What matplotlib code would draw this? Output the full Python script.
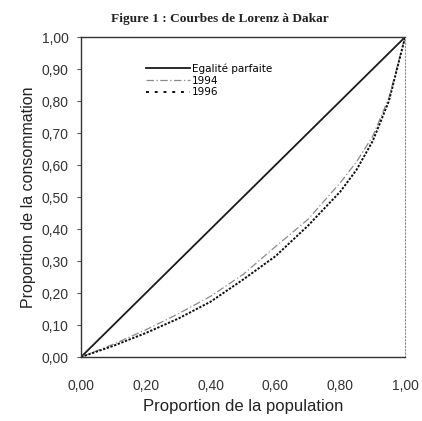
import matplotlib
matplotlib.use("Agg")
import matplotlib.pyplot as plt

# Data
pop = [0.0, 0.1, 0.2, 0.3, 0.4, 0.5, 0.6, 0.7, 0.8, 0.85, 0.9, 0.95, 0.98, 1.0]
egalite_x = [0.0, 1.0]
egalite = [0.0, 1.0]
cons_1994 = [0.0, 0.04, 0.085, 0.135, 0.19, 0.258, 0.345, 0.43, 0.545, 0.61, 0.69, 0.81, 0.925, 1.0]
cons_1996 = [0.0, 0.035, 0.075, 0.12, 0.173, 0.242, 0.315, 0.41, 0.517, 0.585, 0.675, 0.80, 0.92, 1.0]
ticks = [0.0, 0.2, 0.4, 0.6, 0.8, 1.0]
yticks = [0.0, 0.1, 0.2, 0.3, 0.4, 0.5, 0.6, 0.7, 0.8, 0.9, 1.0]

fig = plt.figure(figsize=(4.22, 4.21), dpi=100)
ax = fig.add_axes([0.192, 0.152, 0.768, 0.760])

ax.plot(egalite_x, egalite, color="#1a1a1a", lw=1.3, label="Egalité parfaite")
ax.plot(pop, cons_1994, color="#8a8a8a", lw=0.9, linestyle=(0, (6, 2, 1, 2)), label="1994")
ax.plot(pop, cons_1996, color="#111111", lw=1.4, linestyle=(0, (1.2, 0.8)), label="1996")

ax.set_xlim(0, 1)
ax.set_ylim(0, 1)
ax.set_xticks(ticks)
ax.set_yticks(yticks)
fmt = lambda v: f"{v:.2f}".replace(".", ",")
ax.set_xticklabels([fmt(v) for v in ticks], fontsize=10, color="#333333", family="Liberation Sans")
ax.set_yticklabels([fmt(v) for v in yticks], fontsize=10, color="#333333", family="Liberation Sans")
ax.tick_params(axis="y", length=3, width=0.8, pad=6, direction="out", color="#555555")
ax.tick_params(axis="x", length=0, pad=16)

for s in ["left", "bottom", "top"]:
    ax.spines[s].set_color("#333333")
    ax.spines[s].set_linewidth(1.0)
ax.spines["right"].set_color("#888888")
ax.spines["right"].set_linewidth(0.8)
ax.spines["right"].set_linestyle((0, (1, 2)))

ax.set_xlabel("Proportion de la population", fontsize=12, color="#222222",
              family="Liberation Sans", labelpad=4)
ax.set_ylabel("Proportion de la consommation", fontsize=11.5, color="#222222",
              family="Liberation Sans", labelpad=4)

handles, labels = ax.get_legend_handles_labels()
leg = ax.legend(handles, labels, loc="upper left", bbox_to_anchor=(0.188, 0.93), frameon=False,
                prop={"family": "DejaVu Sans", "size": 7.5},
                handlelength=4.2, handletextpad=0.2, labelspacing=0.15, borderaxespad=0)
leg.get_lines()[2].set_linestyle((0, (1.5, 3)))

fig.text(0.52, 0.955, "Figure 1 : Courbes de Lorenz à Dakar", ha="center", va="center",
         fontsize=9.6, family="Liberation Serif", fontweight="bold", color="#222222")

fig.savefig("out.png", dpi=100)
